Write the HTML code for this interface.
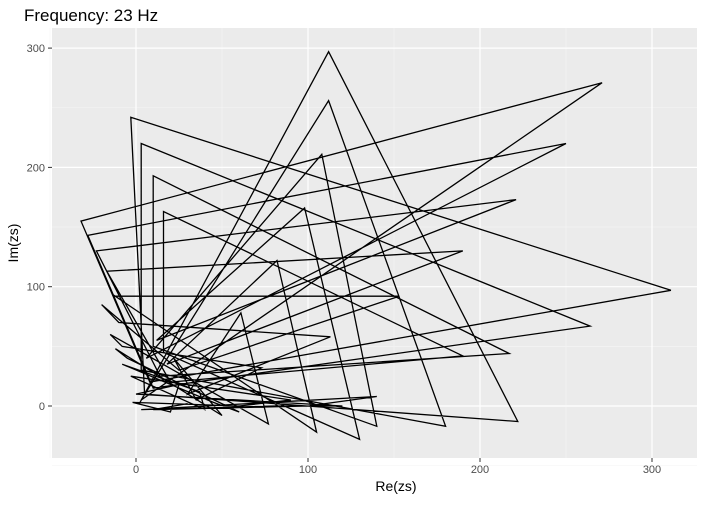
<!DOCTYPE html>
<html><head><meta charset="utf-8"><style>
body{margin:0;background:#fff;font-family:"Liberation Sans",sans-serif}
</style></head><body>
<svg id="chart" width="705" height="500" xmlns="http://www.w3.org/2000/svg">
<text x="24" y="21" font-size="17" fill="#000">Frequency: 23 Hz</text>
<rect x="52" y="28" width="645" height="430" fill="#ebebeb"/>
<g id="grid"></g>
<path id="series" fill="none" stroke="#000" stroke-width="1.3" stroke-linejoin="miter"/>
<g id="axes"></g>
<text x="396" y="491" font-size="14" text-anchor="middle">Re(zs)</text>
<text transform="translate(18,243) rotate(-90)" font-size="14" text-anchor="middle">Im(zs)</text>
</svg>
<script>
const xTicks=[0,100,200,300];
const yTicks=[0,100,200,300];
const xMinor=[-50,50,150,250];
const yMinor=[-50,50,150,250];
const re=[2,112,222,5,-3,311,8,-32,271,3,112,180,3,3,264,10,-28,250,6,108,140,10,10,217,14,-23,221,12,98,130,16,16,190,20,-17,190,18,82,105,-13,-13,153,25,-20,-10,113,30,61,77,-15,-8,73,35,22,50,-12,-5,60,45,-8,37,40,-3,90,60,-2,20,25,0,120,80,3,140,100,10,30];
const im=[2,297,-13,10,242,97,20,155,271,5,256,-17,30,220,67,15,143,220,40,211,-17,50,193,44,25,130,173,55,166,-28,45,163,42,20,113,130,35,122,-22,93,92,92,30,85,70,58,10,78,-15,60,50,32,5,40,-8,48,40,-5,3,35,12,-3,25,5,0,3,-5,18,10,0,0,-3,8,0,-3,2,8];
const X=v=>136+v*1.72, Y=v=>406-v*1.193;
const ns="http://www.w3.org/2000/svg";
const grid=document.getElementById('grid'), axes=document.getElementById('axes');
function line(p,x1,y1,x2,y2,c,w){const l=document.createElementNS(ns,'line');l.setAttribute('x1',x1);l.setAttribute('y1',y1);l.setAttribute('x2',x2);l.setAttribute('y2',y2);l.setAttribute('stroke',c);l.setAttribute('stroke-width',w);p.appendChild(l);return l;}
function txt(p,x,y,s,a){const t=document.createElementNS(ns,'text');t.setAttribute('x',x);t.setAttribute('y',y);t.setAttribute('font-size','11');t.setAttribute('fill','#4d4d4d');t.setAttribute('text-anchor',a);t.textContent=s;p.appendChild(t);return t;}
xMinor.forEach(v=>{const l=line(grid,X(v),28,X(v),458,'#f5f5f5',0.6);

});
yMinor.forEach(v=>{const l=line(grid,52,Y(v),697,Y(v),'#f5f5f5',0.6);

});
xTicks.forEach(v=>{const l=line(grid,X(v),28,X(v),458,'#fff',1.2);


const t=line(axes,X(v),458,X(v),462,'#333',1);


const s=txt(axes,X(v),473,v,'middle');

});
yTicks.forEach(v=>{const l=line(grid,52,Y(v),697,Y(v),'#fff',1.2);


const t=line(axes,48,Y(v),52,Y(v),'#333',1);


const s=txt(axes,45,Y(v)+4,v,'end');

});
let d='';re.forEach((v,i)=>{d+=(i?'L':'M')+X(v).toFixed(1)+','+Y(im[i]).toFixed(1);});
document.getElementById('series').setAttribute('d',d);
</script>
</body></html>
